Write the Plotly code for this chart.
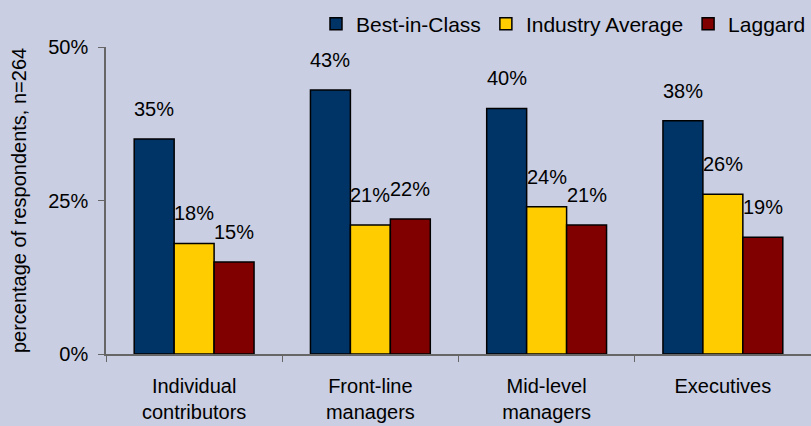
import plotly.graph_objects as go

categories = ["Individual<br>contributors", "Front-line<br>managers", "Mid-level<br>managers", "Executives"]
series_names = ["Best-in-Class", "Industry Average", "Laggard"]
best_in_class = [35, 43, 40, 38]
industry_average = [18, 21, 24, 26]
laggard = [15, 22, 21, 19]
series_values = [best_in_class, industry_average, laggard]
colors = ["#003366", "#FFCC00", "#800000"]
y_ticks = [0, 25, 50]
y_tick_labels = ["0%", "25%", "50%"]

FONT = "Liberation Sans, Arial, sans-serif"
BG = "#C9CEE2"
bargap = 0.32

fig = go.Figure()
for name, vals, col in zip(series_names, series_values, colors):
    fig.add_trace(go.Bar(
        x=categories, y=vals, name=name,
        marker=dict(color=col, line=dict(color="#000000", width=1.5)),
    ))

annotations = []
bw = (1 - bargap) / len(series_names)
for j, vals in enumerate(series_values):
    for i, v in enumerate(vals):
        annotations.append(dict(
            x=i + (j - 1) * bw, y=v, xref="x", yref="y",
            text=f"{v}%", showarrow=False, yshift=30,
            font=dict(size=20, color="#000000", family=FONT),
        ))

fig.update_layout(
    width=811, height=426,
    margin=dict(l=106, r=0, t=47, b=72),
    paper_bgcolor=BG, plot_bgcolor=BG,
    barmode="group", bargap=bargap, bargroupgap=0,
    font=dict(family=FONT, size=20, color="#000000"),
    showlegend=True,
    legend=dict(orientation="h", x=1, xanchor="right", y=1.075, yanchor="middle",
                font=dict(size=21, family=FONT), bgcolor="rgba(0,0,0,0)",
                itemclick=False, traceorder="normal"),
    annotations=annotations,
)
fig.update_xaxes(
    type="category", showline=True, linecolor="#666666", linewidth=1.5,
    ticks="outside", tickson="boundaries", ticklen=6, tickcolor="#666666",
    showgrid=False, tickfont=dict(size=20), ticklabelstandoff=13,
)
fig.update_yaxes(
    range=[0, 50], tickvals=y_ticks, ticktext=y_tick_labels,
    showline=True, linecolor="#666666", linewidth=1.5,
    ticks="outside", ticklen=6, tickcolor="#666666",
    showgrid=False, zeroline=False, tickfont=dict(size=20), ticklabelstandoff=6,
    title=dict(text="percentage of respondents, n=264", font=dict(size=20), standoff=16),
)

fig.write_html("out.html",
               config={"displayModeBar": False},
               post_script="document.body.style.margin='0';document.body.style.overflow='hidden';")
